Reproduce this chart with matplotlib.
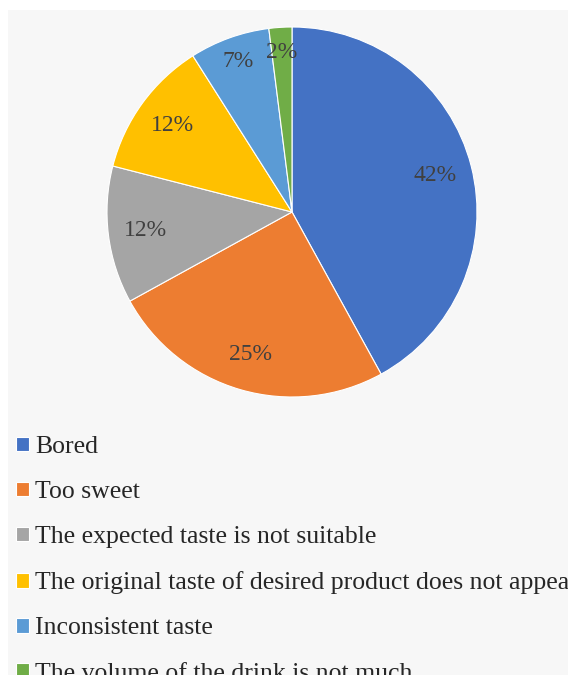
import matplotlib.pyplot as plt
from matplotlib.patches import Rectangle

labels = ['Bored', 'Too sweet', 'The expected taste is not suitable',
          'The original taste of desired product does not appear',
          'Inconsistent taste', 'The volume of the drink is not much']
shares = [42, 25, 12, 12, 7, 2]
colors = ['#4472C4', '#ED7D31', '#A5A5A5', '#FFC000', '#5B9BD5', '#70AD47']

plt.rcParams['font.family'] = ['Liberation Serif', 'DejaVu Serif']

fig = plt.figure(figsize=(5.68, 6.75), dpi=100, facecolor='white')
# light grey panel behind the chart, white margin on top and left
fig.patches.append(Rectangle((8/568, 0), 1, 1 - 10/675, transform=fig.transFigure,
                             facecolor='#f7f7f7', edgecolor='none', zorder=-1))

ax = fig.add_axes([(292-185)/568, (675-212-185)/675, 370/568, 370/675])
wedges, texts, autotexts = ax.pie(
    shares, colors=colors, startangle=90, counterclock=False,
    autopct='%d%%', pctdistance=0.8,
    wedgeprops=dict(edgecolor='white', linewidth=0.8),
    textprops=dict(color='#404040', fontsize=17))
# small slices sit a bit further out
for t, s in zip(autotexts, shares):
    if s < 10:
        x, y = t.get_position()
        t.set_position((x * 1.08, y * 1.08))
ax.set_xlim(-1, 1)
ax.set_ylim(-1, 1)
ax.set_aspect('equal')
ax.axis('off')

fig.legend(wedges, labels, loc='upper left', bbox_to_anchor=(16/568, 1 - 436/675),
           frameon=False, fontsize=18.5, labelcolor='#262626',
           handlelength=0.5, handleheight=0.5, handletextpad=0.25,
           labelspacing=0.9, borderpad=0, borderaxespad=0)

fig.savefig('out.png', dpi=100)
